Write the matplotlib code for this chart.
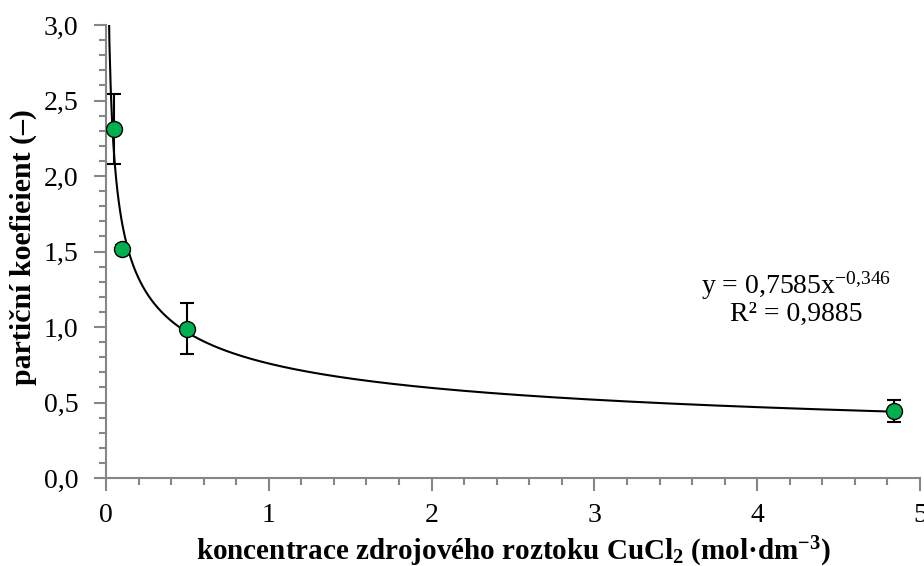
import matplotlib
matplotlib.use("Agg")
import matplotlib.pyplot as plt
import numpy as np

# data
conc = [0.05, 0.1, 0.5, 4.84]            # mol/dm3
kd = [2.31, 1.52, 0.99, 0.445]          # partition coefficient
kd_err = [0.23, 0.02, 0.17, 0.072]

# power trendline shown on the chart
fit_a = 0.7585
fit_b = -0.346
fit_r2 = 0.9885

plt.rcParams['font.family'] = ['Liberation Serif', 'DejaVu Serif']
plt.rcParams['mathtext.fontset'] = 'custom'
plt.rcParams['mathtext.rm'] = 'Liberation Serif'
plt.rcParams['mathtext.bf'] = 'Liberation Serif:bold'
plt.rcParams['mathtext.it'] = 'Liberation Serif:italic'

axis_grey = '#868686'

fig = plt.figure(figsize=(9.24, 5.66), dpi=100)
ax = fig.add_axes([0.1147, 0.1554, 0.881, 0.8004])

xs = np.linspace(0.005, max(conc), 600)
ax.plot(xs, fit_a * xs ** fit_b, color='black', lw=1.5, zorder=2)

ax.errorbar(conc, kd, yerr=kd_err, fmt='none', ecolor='black', elinewidth=1.5,
            capsize=5, capthick=1.5, zorder=3)
ax.plot(conc, kd, 'o', ms=11.5, mfc='#00B050', mec='black', mew=1.0, zorder=4)

ax.set_xlim(0, 5)
ax.set_ylim(0, 3.0)
ax.set_xticks([0, 1, 2, 3, 4, 5])
ax.set_xticklabels(['0', '1', '2', '3', '4', '5'])
ax.set_xticks(np.arange(0, 5.01, 0.2), minor=True)
yt = np.arange(0, 3.01, 0.5)
ax.set_yticks(yt)
ax.set_yticklabels([f'{v:.1f}'.replace('.', ',') for v in yt])
ax.set_yticks(np.arange(0, 3.01, 0.1), minor=True)

for s in ['top', 'right']:
    ax.spines[s].set_visible(False)
for s in ['left', 'bottom']:
    ax.spines[s].set_color(axis_grey)
    ax.spines[s].set_linewidth(1.5)

ax.tick_params(which='both', direction='out', color=axis_grey, width=1.5,
               labelsize=20, labelcolor='black')
ax.tick_params(which='major', length=9, pad=11)
ax.tick_params(which='minor', length=5)
ax.tick_params(axis='x', which='major', pad=9)

ax.set_ylabel('partiční koefieient (–)', fontsize=21.5, fontweight='bold')
ax.set_xlabel(r'koncentrace zdrojového roztoku CuCl$_\mathbf{2}$ (mol·dm$^{\mathbf{-3}}$)',
              fontsize=21, fontweight='bold')
ax.yaxis.set_label_coords(-0.085, 0.51)
ax.xaxis.set_label_coords(0.5, -0.125)

eq = (r'y = 0,7585x$^{' + f'{fit_b}'.replace('.', '{,}') + r'}$'
      + '\n' + f'R² = {fit_r2}'.replace('.', ','))
ax.text(4.24, 1.19, eq, fontsize=20, ha='center', va='center', linespacing=1.0)

fig.savefig('out.png', dpi=100)
